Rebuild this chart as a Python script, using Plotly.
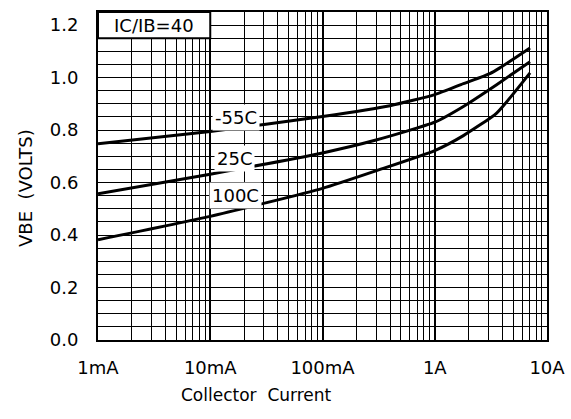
import numpy as np
import plotly.graph_objects as go

# ---- data ----
ic_m55 = [0.001, 0.01, 0.1, 0.4, 1.0, 1.8, 3.1, 3.8, 7.06]
vbe_m55 = [0.748, 0.795, 0.852, 0.893, 0.935, 0.977, 1.015, 1.037, 1.113]

ic_25 = [0.001, 0.01, 0.1, 0.3, 1.0, 1.8, 3.56, 7.06]
vbe_25 = [0.557, 0.632, 0.713, 0.762, 0.830, 0.890, 0.973, 1.060]

ic_100 = [0.001, 0.01, 0.1, 0.3, 1.0, 1.8, 3.56, 7.06]
vbe_100 = [0.382, 0.471, 0.578, 0.645, 0.722, 0.779, 0.865, 1.018]

x_tickvals = [0.001, 0.01, 0.1, 1, 10]
x_ticktext = ["1mA", "10mA", "100mA", "1A", "10A"]
y_tickvals = [0.0, 0.2, 0.4, 0.6, 0.8, 1.0, 1.2]
y_ticktext = ["0.0", "0.2", "0.4", "0.6", "0.8", "1.0", "1.2"]

curve_labels = ["-55C", "25C", "100C"]
label_x = [0.0169, 0.0166, 0.0169]
label_y = [0.847, 0.693, 0.550]

x_range_log = [-3, 1]
y_range = [0, 1.25]

FONT = "DejaVu Sans"

fig = go.Figure()
for xs, ys, name in [(ic_m55, vbe_m55, "-55C"), (ic_25, vbe_25, "25C"), (ic_100, vbe_100, "100C")]:
    fig.add_trace(go.Scatter(x=xs, y=ys, mode="lines", name=name,
                             line=dict(color="black", width=3, shape="spline", smoothing=0.5),
                             showlegend=False))

minor_x = [m * 10.0 ** d for d in range(-3, 1) for m in range(2, 10)]

fig.update_xaxes(type="log", range=x_range_log, automargin=False,
                 tickvals=x_tickvals, ticktext=x_ticktext,
                 showgrid=True, gridcolor="black", gridwidth=2,
                 minor=dict(tickvals=minor_x, showgrid=True, gridcolor="black", gridwidth=1, ticks=""),
                 showline=True, linecolor="black", linewidth=2, mirror=True,
                 ticks="outside", ticklen=10, tickcolor="rgba(0,0,0,0)",
                 tickfont=dict(family=FONT, size=18, color="black"), zeroline=False)
fig.update_yaxes(range=y_range, automargin=False,
                 tickvals=y_tickvals, ticktext=y_ticktext,
                 showgrid=True, gridcolor="black", gridwidth=1,
                 minor=dict(dtick=0.05, showgrid=True, gridcolor="black", gridwidth=1, ticks=""),
                 showline=True, linecolor="black", linewidth=2, mirror=True,
                 ticks="outside", ticklen=14, tickcolor="rgba(0,0,0,0)",
                 tickfont=dict(family=FONT, size=18, color="black"), zeroline=False)

# IC/IB box in the top-left cell
box_x1 = (np.log10(0.01) - x_range_log[0]) / (x_range_log[1] - x_range_log[0])
box_y0 = 1.15 / y_range[1]
fig.add_shape(type="rect", xref="paper", yref="paper", x0=0, x1=box_x1, y0=box_y0, y1=1,
              fillcolor="white", line=dict(color="black", width=2), layer="above")
fig.add_annotation(xref="paper", yref="paper", x=box_x1 / 2, y=(box_y0 + 1) / 2,
                   xanchor="center", yanchor="middle",
                   text="IC/IB=40", showarrow=False,
                   font=dict(family=FONT, size=18, color="black"))

for t, lx, ly in zip(curve_labels, label_x, label_y):
    fig.add_annotation(x=np.log10(lx), y=ly, text=t, showarrow=False,
                       xanchor="center", yanchor="middle",
                       bgcolor="white", borderpad=2,
                       font=dict(family=FONT, size=18, color="black"))

fig.add_annotation(xref="paper", yref="paper", x=0.354, y=-0.168, text="Collector  Current",
                   xanchor="center", yanchor="middle",
                   showarrow=False, font=dict(family=FONT, size=17, color="black"))
fig.add_annotation(xref="paper", yref="paper", x=-0.163, y=0.463, text="VBE  (VOLTS)",
                   xanchor="center", yanchor="middle",
                   textangle=-90, showarrow=False, font=dict(family=FONT, size=18, color="black"))

fig.update_layout(width=571, height=419,
                  margin=dict(l=98, r=24, t=12, b=79, autoexpand=False),
                  paper_bgcolor="white", plot_bgcolor="white")

fig.write_html("out.html", config={"displayModeBar": False},
               post_script="document.body.style.margin='0';")
